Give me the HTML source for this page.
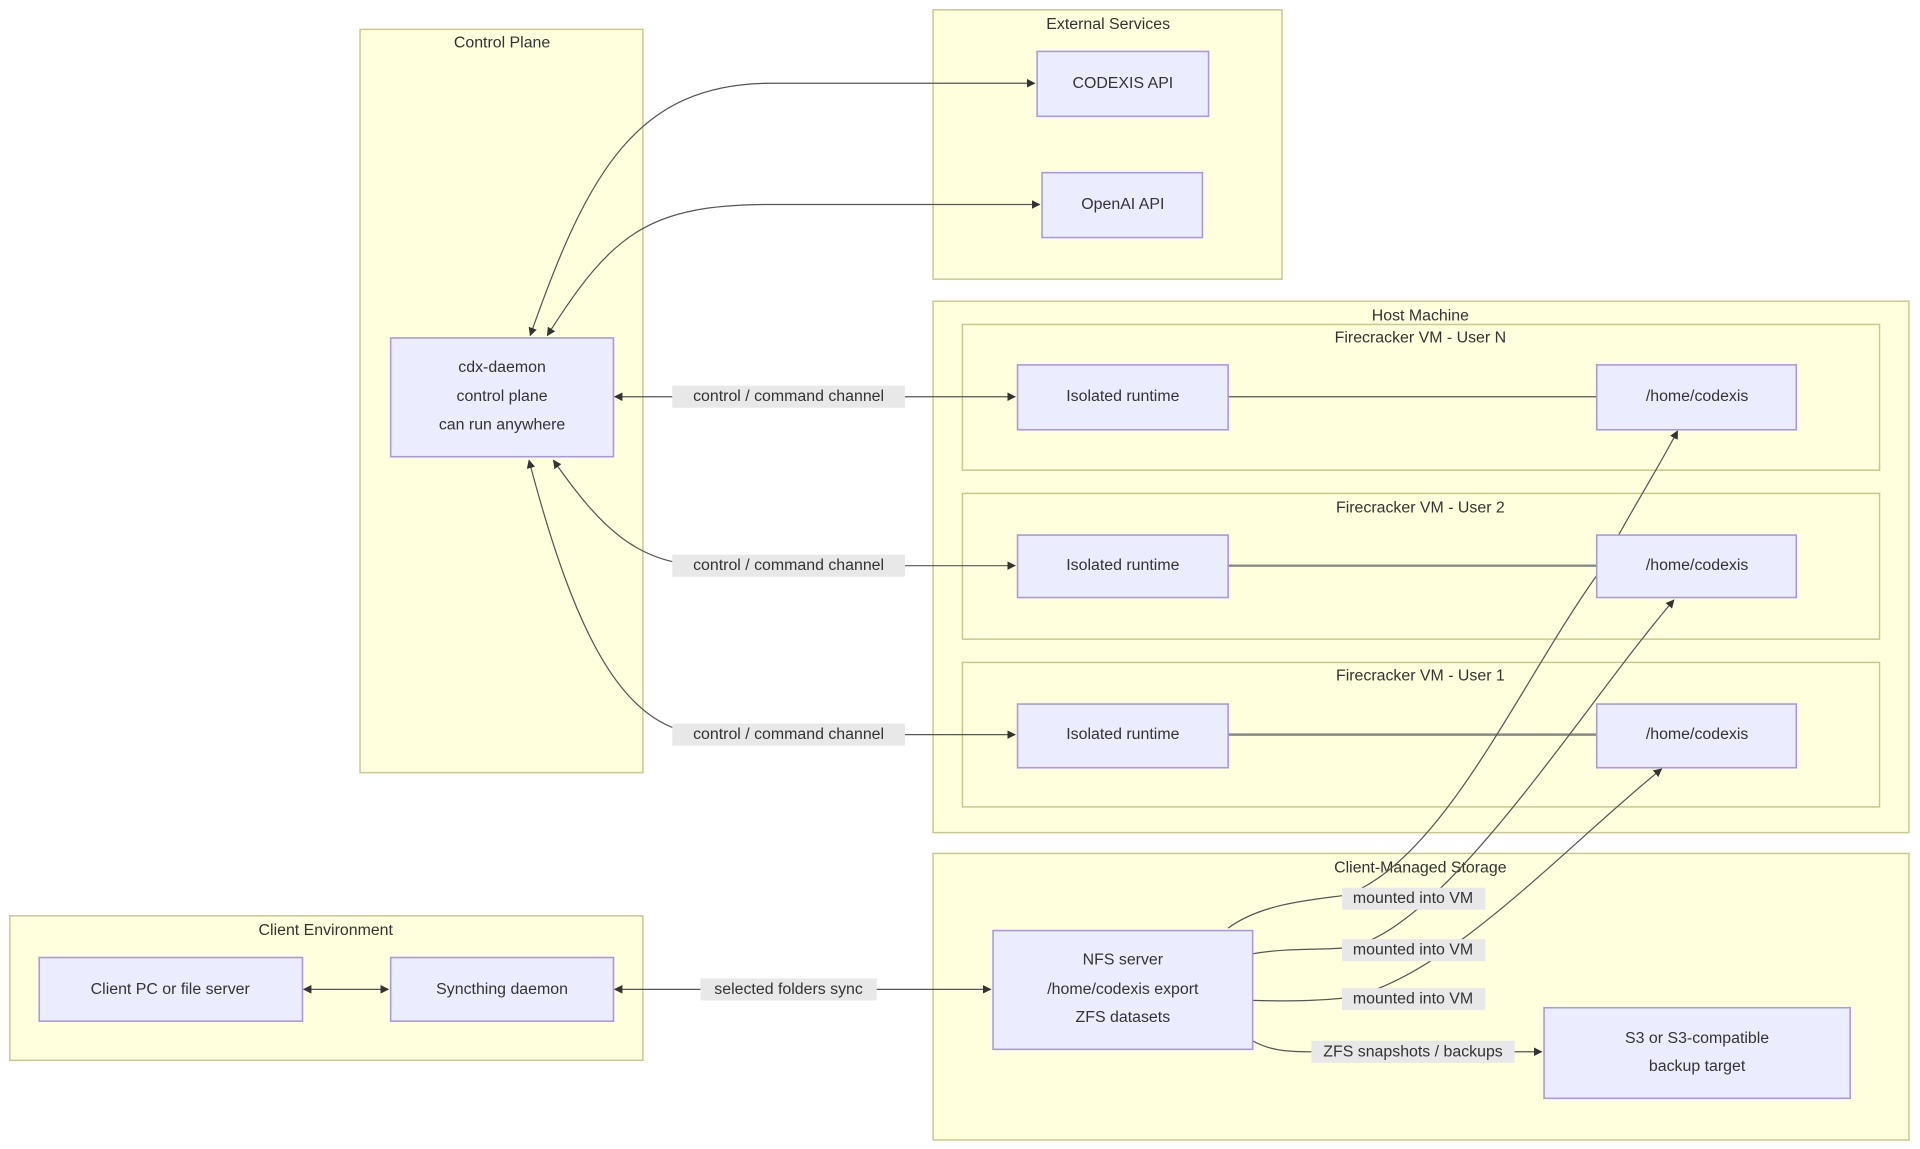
<!DOCTYPE html>
<html><head><meta charset="utf-8"><style>
html,body{margin:0;padding:0;background:#fff;}
svg{display:block;}
text{font-family:"Liberation Sans","DejaVu Sans",sans-serif;font-size:13px;fill:#333;text-anchor:middle;dominant-baseline:central;}
.cl{fill:#ffffde;stroke:#c8c88a;stroke-width:1.2;}
.nd{fill:#ececff;stroke:#a99ae0;stroke-width:1.3;}
.e{fill:none;stroke:#555;stroke-width:1;}
.lb{fill:#e8e8e8;}
</style></head><body>
<svg width="1920" height="1149" viewBox="0 0 1568 938.4" xmlns="http://www.w3.org/2000/svg">
<defs>
<marker id="a" viewBox="0 0 10 10" refX="9" refY="5" markerWidth="7" markerHeight="7" orient="auto-start-reverse"><path d="M0,0 L10,5 L0,10 z" fill="#333"/></marker>
</defs>
<!-- clusters -->
<rect class="cl" x="294" y="24" width="231" height="607"/>
<text x="410" y="35">Control Plane</text>
<rect class="cl" x="762" y="8" width="285" height="220"/>
<text x="905" y="20">External Services</text>
<rect class="cl" x="762" y="246" width="797" height="434"/>
<text x="1160" y="258">Host Machine</text>
<rect class="cl" x="786" y="265" width="749" height="119"/>
<text x="1160" y="276">Firecracker VM - User N</text>
<rect class="cl" x="786" y="403" width="749" height="119"/>
<text x="1160" y="415">Firecracker VM - User 2</text>
<rect class="cl" x="786" y="541" width="749" height="118"/>
<text x="1160" y="552">Firecracker VM - User 1</text>
<rect class="cl" x="762" y="697" width="797" height="234"/>
<text x="1160" y="709">Client-Managed Storage</text>
<rect class="cl" x="8" y="748" width="517" height="118"/>
<text x="266" y="760">Client Environment</text>

<!-- edges -->
<path class="e" d="M433,274 C480,140 520,68 630,68 L845,68" marker-start="url(#a)" marker-end="url(#a)"/>
<path class="e" d="M447,274 C500,190 530,167 630,167 L849,167" marker-start="url(#a)" marker-end="url(#a)"/>
<path class="e" d="M502,324 L829,324" marker-start="url(#a)" marker-end="url(#a)"/>
<path class="e" d="M452,376 C490,430 520,462 580,462 L829,462" marker-start="url(#a)" marker-end="url(#a)"/>
<path class="e" d="M432,376 C470,520 510,600 580,600 L829,600" marker-start="url(#a)" marker-end="url(#a)"/>
<path class="e" d="M1003,324 L1304,324"/>
<path class="e" d="M1003,462 L1304,462" style="stroke:#888;stroke-width:2"/>
<path class="e" d="M1003,600 L1304,600" style="stroke:#888;stroke-width:2"/>
<path class="e" d="M1003,758 C1030,738 1070,735 1100,731 C1180,700 1240,560 1304,470 C1330,420 1350,390 1370,352" marker-end="url(#a)"/>
<path class="e" d="M1023,779 C1050,774 1080,776 1100,774 C1180,760 1290,580 1367,490" marker-end="url(#a)"/>
<path class="e" d="M1023,817 C1060,818 1080,817 1100,815 C1180,800 1280,690 1357,628" marker-end="url(#a)"/>
<path class="e" d="M1023,850 C1040,860 1060,859 1080,859 L1259,859" marker-end="url(#a)"/>
<path class="e" d="M502,808 L809,808" marker-start="url(#a)" marker-end="url(#a)"/>
<path class="e" d="M248,808 L317,808" marker-start="url(#a)" marker-end="url(#a)"/>

<!-- edge labels -->
<rect class="lb" x="549" y="315" width="190" height="18"/><text x="644" y="324">control / command channel</text>
<rect class="lb" x="549" y="453" width="190" height="18"/><text x="644" y="462">control / command channel</text>
<rect class="lb" x="549" y="591" width="190" height="18"/><text x="644" y="600">control / command channel</text>
<rect class="lb" x="572" y="799" width="144" height="18"/><text x="644" y="808">selected folders sync</text>
<rect class="lb" x="1096" y="725" width="117" height="18"/><text x="1154" y="734">mounted into VM</text>
<rect class="lb" x="1096" y="767" width="117" height="18"/><text x="1154" y="776">mounted into VM</text>
<rect class="lb" x="1096" y="807" width="117" height="18"/><text x="1154" y="816">mounted into VM</text>
<rect class="lb" x="1071" y="850" width="166" height="18"/><text x="1154" y="859">ZFS snapshots / backups</text>

<!-- nodes -->
<rect class="nd" x="847" y="42" width="140" height="53"/><text x="917" y="68">CODEXIS API</text>
<rect class="nd" x="851" y="141" width="131" height="53"/><text x="917" y="167">OpenAI API</text>
<rect class="nd" x="319" y="276" width="182" height="97"/>
<text x="410" y="300">cdx-daemon</text><text x="410" y="324">control plane</text><text x="410" y="347">can run anywhere</text>
<rect class="nd" x="831" y="298" width="172" height="53"/><text x="917" y="324">Isolated runtime</text>
<rect class="nd" x="831" y="437" width="172" height="51"/><text x="917" y="462">Isolated runtime</text>
<rect class="nd" x="831" y="575" width="172" height="52"/><text x="917" y="600">Isolated runtime</text>
<rect class="nd" x="1304" y="298" width="163" height="53"/><text x="1386" y="324">/home/codexis</text>
<rect class="nd" x="1304" y="437" width="163" height="51"/><text x="1386" y="462">/home/codexis</text>
<rect class="nd" x="1304" y="575" width="163" height="52"/><text x="1386" y="600">/home/codexis</text>
<rect class="nd" x="811" y="760" width="212" height="97"/>
<text x="917" y="784">NFS server</text><text x="917" y="808">/home/codexis export</text><text x="917" y="831">ZFS datasets</text>
<rect class="nd" x="1261" y="823" width="250" height="74"/>
<text x="1386" y="848">S3 or S3-compatible</text><text x="1386" y="871">backup target</text>
<rect class="nd" x="32" y="782" width="215" height="52"/><text x="139" y="808">Client PC or file server</text>
<rect class="nd" x="319" y="782" width="182" height="52"/><text x="410" y="808">Syncthing daemon</text>
</svg>
</body></html>
